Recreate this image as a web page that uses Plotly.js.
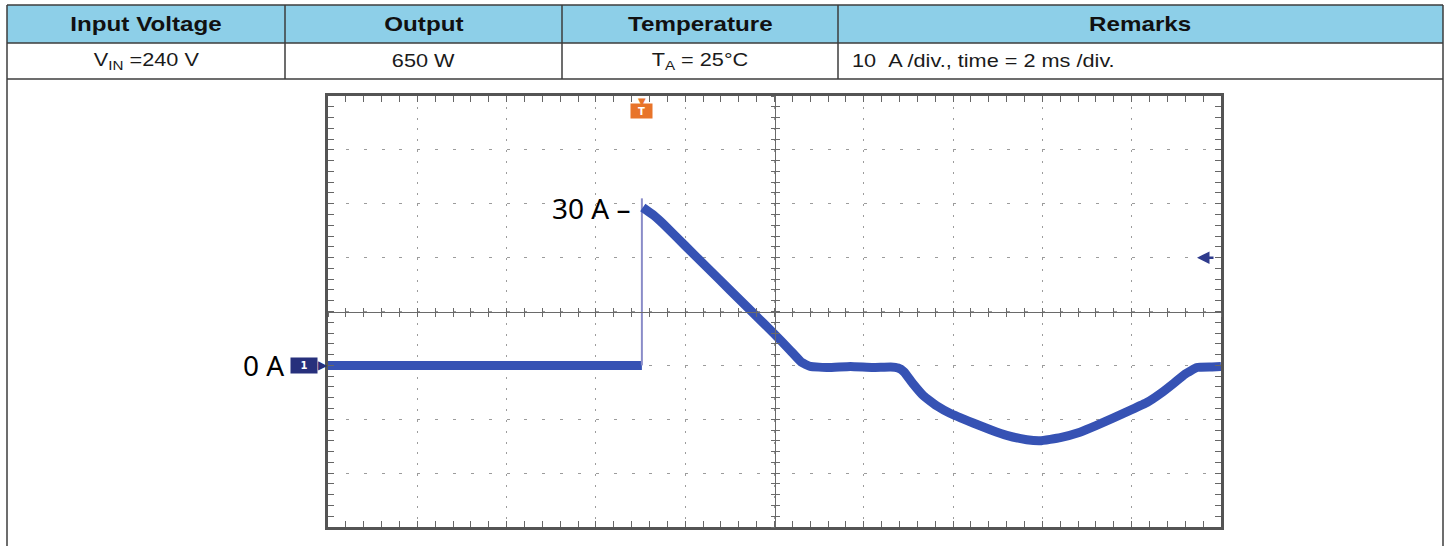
<!DOCTYPE html>
<html>
<head>
<meta charset="utf-8">
<script src="https://cdn.plot.ly/plotly-3.0.1.min.js"></script>
<style>
  html, body { margin: 0; padding: 0; background: #fff; }
  #chart { width: 1450px; height: 546px; }
</style>
</head>
<body>
<div id="chart"></div>
<script>
// ---------- DATA ----------
const tableHeaders = ['Input Voltage', 'Output', 'Temperature', 'Remarks'];
const tableRow = ['V<sub>IN</sub> =240 V', '650 W', 'T<sub>A</sub> = 25°C', '10\u00a0\u00a0A /div., time = 2 ms /div.'];

// time in ms (2 ms/div), current in A (10 A/div)
const preTime = [0, 7.03];
const preCurrent = [0, 0];
const edgeTime = [7.03, 7.03];
const edgeCurrent = [0, 31];
const timeMs = [7.05, 7.3, 7.59, 8.0, 8.5, 9.0, 9.5, 10.0, 10.35, 10.6, 10.8, 11.2, 11.7, 12.2, 12.6, 12.77,
                12.9, 13.1, 13.33, 13.65, 13.93, 14.45, 14.85, 15.2, 15.65, 15.95, 16.4, 16.84, 17.2, 17.58,
                17.95, 18.34, 18.65, 18.93, 19.2, 19.46, 19.8, 20.0];
const currentA = [29.3, 27.8, 25.6, 22.2, 18.1, 14.0, 9.9, 5.8, 2.8, 0.6, -0.2, -0.4, -0.2, -0.4, -0.3, -0.5,
                  -1.2, -3.4, -5.6, -7.6, -8.9, -10.7, -12.0, -13.0, -13.8, -14.0, -13.4, -12.4, -11.2, -9.8,
                  -8.4, -6.9, -5.2, -3.4, -1.6, -0.4, -0.3, -0.2];
const labelZero = '0 A';
const labelPeak = '30 A \u2013';
const peakLevel = 30;
const triggerLevel = 20;
const xRange = [0, 20];
const yRange = [-30, 50];

// ---------- LAYOUT HELPERS ----------
const W = 1450, H = 546;
const X = px => px / W;
const Y = py => 1 - py / H;

const plotX = [X(328), X(1221)];
const plotY = [Y(527), Y(96)];
const midX = (plotX[0] + plotX[1]) / 2;
const midY = (plotY[0] + plotY[1]) / 2;

const frameColor = '#545454';
const gridColor = '#9c9c9c';
const traceColor = '#3652b4';

const colEdges = [7, 285, 562, 838, 1443];
const rowEdges = [5, 43, 79];
const textStretch = 1.24;

// ---------- TRACES ----------
const traces = [
  { x: preTime, y: preCurrent, mode: 'lines', line: { color: traceColor, width: 9 }, hoverinfo: 'skip' },
  { x: edgeTime, y: edgeCurrent, mode: 'lines', line: { color: '#8a8cc8', width: 2 }, hoverinfo: 'skip' },
  { x: timeMs, y: currentA, mode: 'lines', line: { color: traceColor, width: 9, shape: 'spline', smoothing: 0.3 }, hoverinfo: 'skip' },
  // empty traces to create center-line overlay axes
  { x: [null], y: [null], xaxis: 'x2', yaxis: 'y', hoverinfo: 'skip' },
  { x: [null], y: [null], xaxis: 'x3', yaxis: 'y', hoverinfo: 'skip' },
  { x: [null], y: [null], xaxis: 'x', yaxis: 'y2', hoverinfo: 'skip' },
  { x: [null], y: [null], xaxis: 'x', yaxis: 'y3', hoverinfo: 'skip' }
];

// ---------- SHAPES (table) ----------
const lineStyle = { color: '#3c3c3c', width: 1.5 };
const shapes = [
  { type: 'rect', xref: 'paper', yref: 'paper', x0: X(colEdges[0]), x1: X(colEdges[4]), y0: Y(rowEdges[0]), y1: Y(rowEdges[1]),
    fillcolor: '#8dcfe8', line: { width: 0 }, layer: 'below' }
];
rowEdges.forEach(r => shapes.push({ type: 'line', xref: 'paper', yref: 'paper', x0: X(colEdges[0]), x1: X(colEdges[4]), y0: Y(r), y1: Y(r), line: lineStyle }));
colEdges.forEach(c => shapes.push({ type: 'line', xref: 'paper', yref: 'paper', x0: X(c), x1: X(c), y0: Y(rowEdges[0]), y1: Y(rowEdges[2]), line: lineStyle }));
shapes.push({ type: 'line', xref: 'paper', yref: 'paper', x0: X(colEdges[0]), x1: X(colEdges[0]), y0: Y(rowEdges[2]), y1: 0, line: lineStyle });
shapes.push({ type: 'line', xref: 'paper', yref: 'paper', x0: X(colEdges[4]), x1: X(colEdges[4]), y0: Y(rowEdges[2]), y1: 0, line: lineStyle });

// ---------- ANNOTATIONS ----------
const annotations = [];
tableHeaders.forEach((h, i) => annotations.push({
  xref: 'paper', yref: 'paper', x: X((colEdges[i] + colEdges[i + 1]) / 2), y: Y((rowEdges[0] + rowEdges[1]) / 2),
  text: '<b>' + h + '</b>', showarrow: false, xanchor: 'center', yanchor: 'middle',
  font: { family: 'Liberation Sans, Arial, sans-serif', size: 19.5, color: '#111' }
}));
tableRow.forEach((t, i) => annotations.push({
  xref: 'paper', yref: 'paper',
  x: i === 3 ? X(colEdges[i] + 12) : X((colEdges[i] + colEdges[i + 1]) / 2),
  y: Y((rowEdges[1] + rowEdges[2]) / 2),
  text: t, showarrow: false, xanchor: i === 3 ? 'left' : 'center', yanchor: 'middle',
  font: { family: 'Liberation Sans, Arial, sans-serif', size: 17.5, color: '#1a1a1a' }
}));
// waveform labels
annotations.push({ xref: 'paper', yref: 'y', x: X(286), y: 0, text: labelZero, showarrow: false, xanchor: 'right', yanchor: 'middle',
  font: { family: 'Noto Sans, sans-serif', size: 28, color: '#000' } });
annotations.push({ xref: 'paper', yref: 'y', x: X(632), y: peakLevel - 0.8, text: labelPeak, showarrow: false, xanchor: 'right', yanchor: 'middle',
  font: { family: 'Noto Sans, sans-serif', size: 28, color: '#000' } });
// channel 1 marker
annotations.push({ xref: 'paper', yref: 'y', x: X(304), y: 0, text: '<b>1</b>', showarrow: false, xanchor: 'center', yanchor: 'middle',
  bgcolor: '#27307c', width: 24, height: 13, borderpad: 1, font: { family: 'DejaVu Sans', size: 10, color: '#fff' } });
annotations.push({ xref: 'paper', yref: 'y', x: X(316), y: 0, text: '\u25B6', showarrow: false, xanchor: 'left', yanchor: 'middle',
  font: { family: 'DejaVu Sans', size: 12, color: '#27307c' } });
// trigger marker
annotations.push({ xref: 'x', yref: 'paper', x: edgeTime[0], y: Y(111.5), text: '<b>T</b>', showarrow: false, xanchor: 'center', yanchor: 'middle',
  bgcolor: '#e8742a', width: 19, height: 12, borderpad: 1, font: { family: 'DejaVu Sans', size: 10, color: '#fff' } });
annotations.push({ xref: 'x', yref: 'paper', x: edgeTime[0], y: Y(101), text: '\u25BC', showarrow: false, xanchor: 'center', yanchor: 'middle',
  font: { family: 'DejaVu Sans', size: 10, color: '#e8742a' } });
// trigger level arrow on the right
annotations.push({ xref: 'paper', yref: 'y', x: X(1197), y: triggerLevel, text: '', showarrow: true, ax: 18, ay: 0,
  arrowhead: 2, arrowsize: 1, arrowwidth: 2.5, arrowcolor: '#2e3a8c' });

// ---------- AXES ----------
const mainX = {
  domain: plotX, range: xRange, showline: true, linecolor: frameColor, linewidth: 3, mirror: 'allticks',
  ticks: 'inside', ticklen: 6, tickcolor: '#666', tickwidth: 1, dtick: 2, tick0: 0,
  minor: { ticks: 'inside', ticklen: 5, dtick: 0.4, tick0: 0, tickcolor: '#666', showgrid: false },
  showgrid: true, gridcolor: gridColor, gridwidth: 1, griddash: '2px,8.8px',
  showticklabels: false, zeroline: false, fixedrange: true
};
const mainY = {
  domain: plotY, range: yRange, showline: true, linecolor: frameColor, linewidth: 3, mirror: 'allticks',
  ticks: 'inside', ticklen: 6, tickcolor: '#666', tickwidth: 1, dtick: 10, tick0: 0,
  minor: { ticks: 'inside', ticklen: 5, dtick: 2, tick0: 0, tickcolor: '#666', showgrid: false },
  showgrid: true, gridcolor: gridColor, gridwidth: 1, griddash: '3px,14.86px',
  showticklabels: false, zeroline: false, fixedrange: true
};
function centerX(side) {
  return { overlaying: 'x', anchor: 'free', position: midY, range: xRange, showline: true, linecolor: '#6a6a6a', linewidth: 1.2,
    ticks: side, ticklen: 4, tickcolor: '#6a6a6a', dtick: 2, tick0: 0,
    minor: { ticks: side, ticklen: 4, dtick: 0.4, tick0: 0, tickcolor: '#6a6a6a' },
    showgrid: false, showticklabels: false, zeroline: false, fixedrange: true };
}
function centerY(side) {
  return { overlaying: 'y', anchor: 'free', position: midX, range: yRange, showline: true, linecolor: '#6a6a6a', linewidth: 1.2,
    ticks: side, ticklen: 4, tickcolor: '#6a6a6a', dtick: 10, tick0: 0,
    minor: { ticks: side, ticklen: 4, dtick: 2, tick0: 0, tickcolor: '#6a6a6a' },
    showgrid: false, showticklabels: false, zeroline: false, fixedrange: true };
}

const layout = {
  width: W, height: H, margin: { l: 0, r: 0, t: 0, b: 0, pad: 0 },
  paper_bgcolor: '#fff', plot_bgcolor: '#fff', showlegend: false,
  xaxis: mainX, yaxis: mainY,
  xaxis2: centerX('inside'), xaxis3: centerX('outside'),
  yaxis2: centerY('inside'), yaxis3: centerY('outside'),
  shapes: shapes, annotations: annotations
};

// The table text in the reference is horizontally stretched; widen it around its anchor.
function stretchTableText() {
  const nTable = tableHeaders.length + tableRow.length;
  document.querySelectorAll('#chart .annotation').forEach(a => {
    const idx = +a.getAttribute('data-index');
    if (!(idx < nTable)) return;
    const t = a.querySelector('text.annotation-text');
    if (!t) return;
    const bb = t.getBBox();
    const leftAligned = idx === nTable - 1;
    const ax = leftAligned ? bb.x : bb.x + bb.width / 2;
    const prev = t.getAttribute('transform') || '';
    t.setAttribute('transform', (prev + ' translate(' + ax + ',0) scale(' + textStretch + ',1) translate(' + (-ax) + ',0)').trim());
  });
}

Plotly.newPlot('chart', traces, layout, { staticPlot: true, displayModeBar: false }).then(stretchTableText);
</script>
</body>
</html>
